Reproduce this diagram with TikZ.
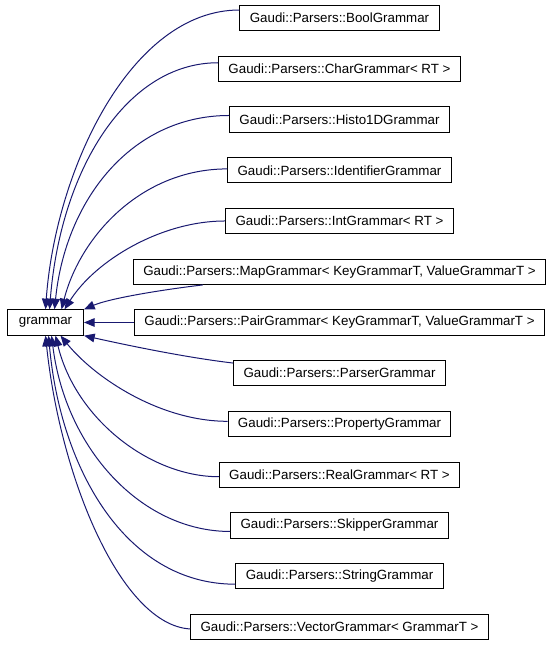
\documentclass[tikz,border=0pt]{standalone}
\usepackage{fontspec}
\setmainfont{Liberation Sans}
\usetikzlibrary{positioning,arrows.meta}
\definecolor{EdgeBlue}{HTML}{191970}
\tikzset{
  class node/.style={draw=black,line width=.75pt,fill=white,
    font=\fontsize{10}{12}\selectfont,minimum height=19pt,
    inner xsep=7.4pt,inner ysep=0pt},
  class edge/.style={-{Triangle[length=8pt,width=6.5pt]},line width=.75pt,
    draw=EdgeBlue}
}
\begin{document}
\begin{tikzpicture}[x=.75pt,y=-.75pt,node distance=18.31pt]
  \useasboundingbox (0,0) rectangle (552,645);
  \node[class node] (bool) at (339.5,18) {Gaudi::Parsers::BoolGrammar};
  \node[class node,below=of bool] (char) {Gaudi::Parsers::CharGrammar< RT >};
  \node[class node,below=of char] (histo) {Gaudi::Parsers::Histo1DGrammar};
  \node[class node,below=of histo] (ident) {Gaudi::Parsers::IdentifierGrammar};
  \node[class node,below=of ident] (int) {Gaudi::Parsers::IntGrammar< RT >};
  \node[class node,below=of int] (map) {Gaudi::Parsers::MapGrammar< KeyGrammarT, ValueGrammarT >};
  \node[class node,below=of map] (pair) {Gaudi::Parsers::PairGrammar< KeyGrammarT, ValueGrammarT >};
  \node[class node,below=of pair] (parser) {Gaudi::Parsers::ParserGrammar};
  \node[class node,below=of parser] (property) {Gaudi::Parsers::PropertyGrammar};
  \node[class node,below=of property] (real) {Gaudi::Parsers::RealGrammar< RT >};
  \node[class node,below=of real] (skipper) {Gaudi::Parsers::SkipperGrammar};
  \node[class node,below=of skipper] (string) {Gaudi::Parsers::StringGrammar};
  \node[class node,below=of string] (vector) {Gaudi::Parsers::VectorGrammar< GrammarT >};
  \node[class node,minimum width=57pt,left=37.5pt of pair] (grammar) {grammar};
  \draw[class edge] ([yshift=6pt]bool.west) .. controls +(-109,0) and +(10,-139) .. (grammar.north);
  \draw[class edge] ([yshift=4.5pt]char.west) .. controls +(-92,0) and +(11,-139) .. ([xshift=3pt]grammar.north);
  \draw[class edge] ([yshift=3pt]histo.west) .. controls +(-98,0) and +(11,-109) .. ([xshift=6.75pt]grammar.north);
  \draw[class edge] ([yshift=1pt]ident.west) .. controls +(-85,0) and +(19,-74) .. ([xshift=12pt]grammar.north);
  \draw[class edge] (int.west) .. controls +(-64,0) and +(31,-49) .. ([xshift=14.25pt]grammar.north);
  \draw[class edge] ([xshift=52.5pt]map.south west) .. controls +(-42,5) and +(26,-11) .. (grammar.north east);
  \draw[class edge] (pair) -- (grammar);
  \draw[class edge] ([yshift=-2.25pt]parser.north west) .. controls +(-51,-6) and +(36,8) .. (grammar.south east);
  \draw[class edge] ([yshift=2pt]property.west) .. controls +(-67,0) and +(35,43) .. ([xshift=11.25pt]grammar.south);
  \draw[class edge] ([yshift=-1.5pt]real.west) .. controls +(-69,0) and +(20,83) .. ([xshift=7.5pt]grammar.south);
  \draw[class edge] ([yshift=-4.5pt]skipper.west) .. controls +(-89,0) and +(14,113) .. ([xshift=4.5pt]grammar.south);
  \draw[class edge] ([yshift=-6pt]string.west) .. controls +(-110,0) and +(12,133) .. ([xshift=2.25pt]grammar.south);
  \draw[class edge] ([yshift=-1.5pt]vector.west) .. controls +(-69,-4) and +(15,143) .. (grammar.south);
\end{tikzpicture}
\end{document}
